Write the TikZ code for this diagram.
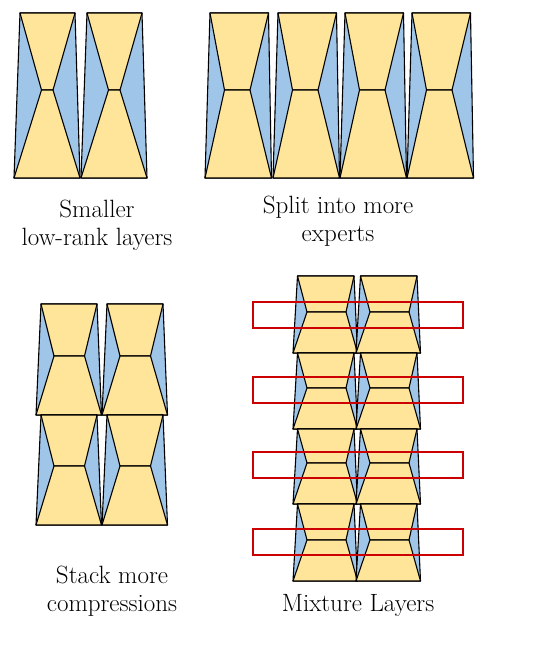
\documentclass[tikz,border=0pt]{standalone}
\usepackage{xcolor}
\usepackage{tikz}
\usetikzlibrary{positioning,calc}

\definecolor{lryellow}{HTML}{FFE599}
\definecolor{lrblue}{HTML}{9FC5E8}
\definecolor{lrred}{HTML}{CC0000}

% one low-rank layer: #1 left x, #2 top y, #3 bottom y, #4 waist y
\newcommand{\lowrank}[4]{%
  \draw[side] (#1+\insl,#2) -- (#1+\unitw-\insr,#2) -- (#1+\unitw,#3) -- (#1,#3) -- cycle;
  \draw[core] (#1+\insl,#2) -- (#1+\unitw-\insr,#2) -- (#1+\waistr,#4) -- (#1+\waistl,#4) -- cycle;
  \draw[core] (#1+\waistl,#4) -- (#1+\waistr,#4) -- (#1+\unitw,#3) -- (#1,#3) -- cycle;
}

\begin{document}
\begin{tikzpicture}[x=1pt,y=-1pt,
    side/.style={fill=lrblue, draw=black, line width=1.1pt, line join=round},
    core/.style={fill=lryellow, draw=black, line width=1.1pt, line join=round},
    mixbox/.style={draw=lrred, line width=2pt},
    caption/.style={align=center, font=\fontsize{25}{28}\selectfont}]
    \useasboundingbox (0,0) rectangle (538,659);

    % smaller low-rank layers
    \def\unitw{66}\def\insl{6}\def\insr{5}\def\waistl{27.5}\def\waistr{39}
    \foreach \x in {14, 81} {
        \lowrank{\x}{13}{178}{90}
    }
    \node[caption] (smaller) at (97,225) {Smaller\\low-rank layers};

    % split into more experts
    \def\unitw{66.5}\def\insl{5}\def\insr{3}\def\waistl{19.5}\def\waistr{45}
    \foreach \x in {205, 273, 340, 407} {
        \lowrank{\x}{13}{178}{90}
    }
    \node[caption] (split) at (338,221) {Split into more\\experts};

    % stack more compressions
    \def\unitw{65.5}\def\insl{5}\def\insr{4.5}\def\waistl{18}\def\waistr{48.5}
    \foreach \ytop/\ybot/\ywaist in {304/415/356, 415/525/466} {
        \foreach \x in {36, 102} {
            \lowrank{\x}{\ytop}{\ybot}{\ywaist}
        }
    }
    \node[caption] (stack) at (112,591) {Stack more\\compressions};

    % mixture layers
    \def\unitw{64.5}\def\insl{4.5}\def\insr{3.5}\def\waistl{14}\def\waistr{53}
    \foreach \ytop/\ybot/\ywaist in {276/353/312, 353/429/388, 429/504/463, 504/581/540} {
        \foreach \x in {293, 356} {
            \lowrank{\x}{\ytop}{\ybot}{\ywaist}
        }
    }
    \foreach \ymid in {315, 390, 465, 542} {
        \draw[mixbox] (253,\ymid-13) rectangle (463,\ymid+13);
    }
    \node[caption] (mixture) at (358,605) {Mixture Layers};
\end{tikzpicture}
\end{document}
